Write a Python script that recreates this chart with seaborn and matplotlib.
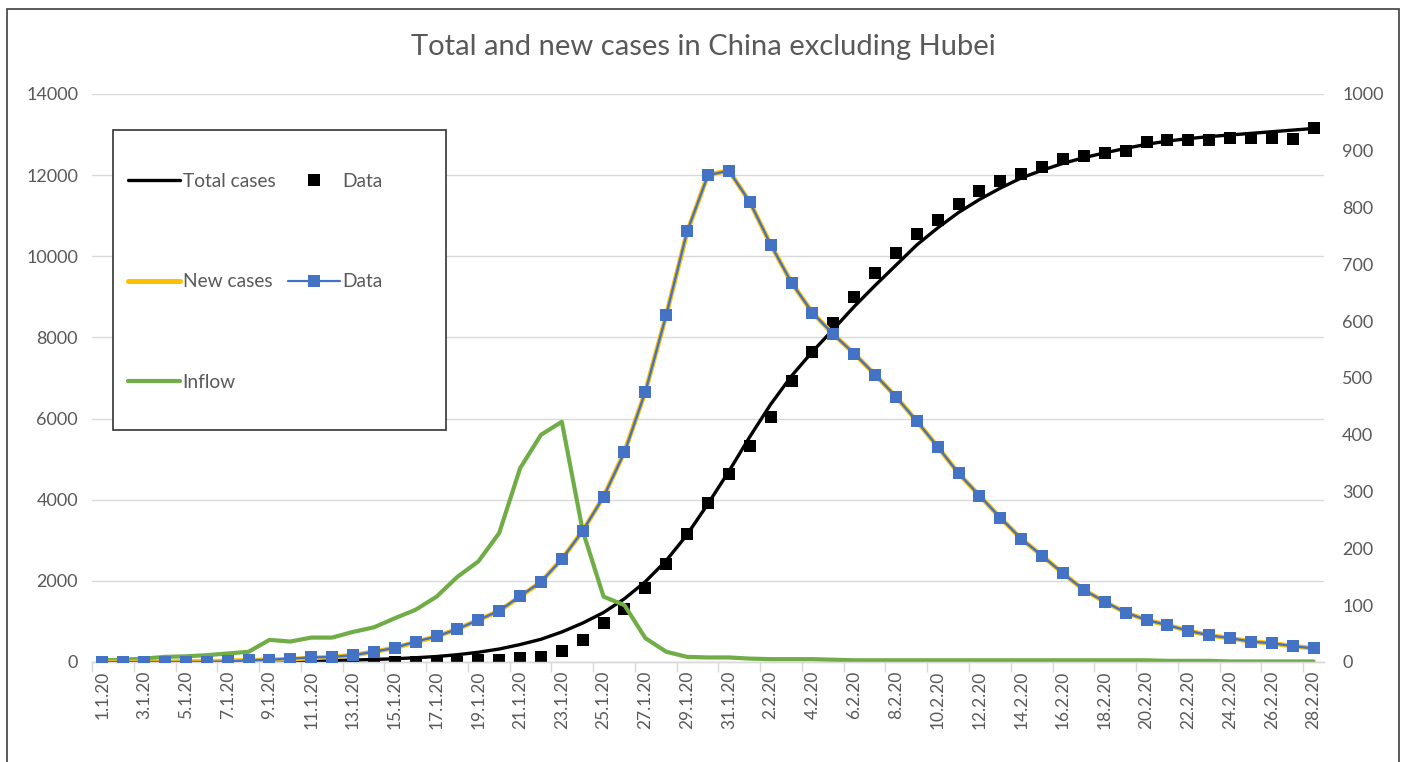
import numpy as np
import pandas as pd
import matplotlib
matplotlib.use("Agg")
import matplotlib.pyplot as plt
from matplotlib.lines import Line2D
from matplotlib.patches import Rectangle
import seaborn as sns

# ---------------- data ----------------
dates = (["%d.1.20" % d for d in range(1, 32)] +
         ["%d.2.20" % d for d in range(1, 29)])

total_model = [0, 2, 4, 6, 8, 10, 13, 16, 20, 25, 30, 38, 48, 62, 80, 105, 135, 180, 240, 320,
               430, 560, 740, 960, 1220, 1560, 1980, 2500, 3140, 3900, 4700, 5550, 6350, 7050,
               7650, 8200, 8760, 9280, 9780, 10280, 10700, 11080, 11400, 11680, 11930, 12120,
               12290, 12430, 12550, 12660, 12760, 12840, 12900, 12950, 12990, 13030, 13070,
               13110, 13150]

total_data = [0, 0, 0, 0, 0, 0, 0, 0, 0, 0, 0, 0, 0, 0, 0, 0, 0, 0, 49, 49,
              90, 131, 280, 550, 954, 1300, 1817, 2409, 3149, 3913, 4636, 5327, 6049, 6929,
              7652, 8352, 9008, 9600, 10078, 10555, 10905, 11282, 11612, 11866, 12019, 12197,
              12396, 12463, 12537, 12586, 12820, 12860, 12860, 12868, 12907, 12907, 12907,
              12887, 13150]

new_model = [0, 0, 0, 0, 1, 1, 2, 3, 4, 5, 7, 9, 12, 18, 25, 35, 45, 58, 74, 90,
             115, 141, 181, 231, 291, 370, 476, 611, 757, 858, 865, 810, 735, 668,
             615, 577, 543, 506, 467, 424, 379, 332, 293, 254, 217, 187, 156, 127,
             106, 87, 74, 65, 55, 47, 42, 36, 33, 28, 24]

new_data = [0, 0, 0, 0, 0, 0, 1, 3, 4, 6, 8, 9, 12, 18, 25, 36, 45, 58, 74, 90,
            116, 141, 181, 231, 291, 369, 476, 611, 758, 857, 865, 810, 735, 668,
            615, 577, 543, 506, 467, 424, 379, 332, 293, 254, 217, 187, 156, 127,
            106, 87, 74, 65, 55, 47, 42, 36, 33, 28, 24]

inflow = [3, 4, 6, 9, 10, 12, 15, 18, 39, 36, 43, 43, 53, 61, 77, 92, 115, 150, 177, 227,
          341, 400, 423, 231, 115, 100, 42, 18, 9, 8, 8, 6, 5, 5, 5, 4, 3, 3, 3, 3,
          3, 3, 3, 3, 3, 3, 3, 3, 3, 3, 3, 2, 2, 2, 1, 1, 1, 1, 1]

left_ticks = [0, 2000, 4000, 6000, 8000, 10000, 12000, 14000]
right_ticks = [0, 100, 200, 300, 400, 500, 600, 700, 800, 900, 1000]

# ---------------- style ----------------
sns.set_theme(style="white")
plt.rcParams['font.family'] = ['Lato', 'DejaVu Sans']
TXT = "#595959"
GRID = "#D9D9D9"
BLACK = "#000000"
YELLOW = "#FFC000"
BLUE = "#4472C4"
GREEN = "#70AD47"

df = pd.DataFrame({
    "i": np.arange(len(dates)),
    "total_model": total_model,
    "total_data": total_data,
    "new_model": new_model,
    "new_data": new_data,
    "inflow": inflow,
})

W, H = 1406, 762
fig = plt.figure(figsize=(W / 100, H / 100), dpi=100)
ax = fig.add_axes([92 / W, (H - 662) / H, (1324 - 92) / W, (662 - 94) / H])
ax2 = ax.twinx()

# left axis: total cases
sns.lineplot(data=df, x="i", y="total_model", ax=ax, color=BLACK, linewidth=2.4, zorder=3)
sns.scatterplot(data=df, x="i", y="total_data", ax=ax, color=BLACK, marker="s", s=82,
                edgecolor=BLACK, linewidth=0, zorder=4)

# right axis: new cases and inflow
sns.lineplot(data=df, x="i", y="inflow", ax=ax2, color=GREEN, linewidth=3.0, zorder=2)
sns.lineplot(data=df, x="i", y="new_model", ax=ax2, color=YELLOW, linewidth=3.4, zorder=3)
sns.lineplot(data=df, x="i", y="new_data", ax=ax2, color=BLUE, linewidth=1.7, marker="s",
             markersize=8.3, markeredgewidth=0, zorder=4)

ax.set_xlim(-0.5, len(dates) - 0.5)
ax.set_ylim(0, 14000)
ax2.set_ylim(0, 1000)
ax.set_yticks(left_ticks)
ax.set_yticklabels([str(v) for v in left_ticks])
ax2.set_yticks(right_ticks)
ax2.set_yticklabels([str(v) for v in right_ticks])

ax.set_xticks(np.arange(0, len(dates), 2))
ax.set_xticklabels([dates[k] for k in range(0, len(dates), 2)], rotation=90)
ax.set_xticks(np.arange(-0.5, len(dates), 2), minor=True)
ax.tick_params(axis="x", which="major", length=0, pad=6, labelsize=12.5, labelcolor=TXT)
ax.tick_params(axis="x", which="minor", length=7, width=1, color=GRID, bottom=True)
ax.tick_params(axis="y", length=0, pad=10, labelsize=13, labelcolor=TXT)
ax2.tick_params(axis="y", length=0, pad=13, labelsize=13, labelcolor=TXT)

ax.set_xlabel("")
ax.set_ylabel("")
ax2.set_ylabel("")
ax.grid(axis="y", color=GRID, linewidth=1)
ax.set_axisbelow(True)
for a in (ax, ax2):
    for s in ("top", "left", "right"):
        a.spines[s].set_visible(False)
    a.spines["bottom"].set_color(GRID)
    a.spines["bottom"].set_linewidth(1)
    a.patch.set_alpha(0)
for lg in (ax.get_legend(), ax2.get_legend()):
    if lg is not None:
        lg.remove()

fig.text(0.5, (H - 47) / H, "Total and new cases in China excluding Hubei",
         ha="center", va="center", fontsize=21, color=TXT)

# legend
handles = [
    Line2D([], [], color=BLACK, linewidth=2.4),
    Line2D([], [], color=YELLOW, linewidth=3.6),
    Line2D([], [], color=GREEN, linewidth=3.0),
    Line2D([], [], color="none", marker="s", markersize=9, markerfacecolor=BLACK,
           markeredgewidth=0),
    Line2D([], [], color=BLUE, linewidth=1.6, marker="s", markersize=8.5,
           markeredgewidth=0),
]
labels = ["Total cases", "New cases", "Inflow", "Data", "Data"]
fig.patches.append(Rectangle((113 / W, (H - 430) / H), (446 - 113) / W, (430 - 130) / H,
                             transform=fig.transFigure, fill=True, facecolor="white",
                             edgecolor="#333333", linewidth=1.2, zorder=5))
leg = fig.legend(handles, labels, ncol=2, loc="upper left",
                 bbox_to_anchor=(128 / W, (H - 173) / H), frameon=False,
                 fontsize=13.8, labelcolor=TXT, handlelength=2.7, handletextpad=0.15,
                 columnspacing=0.65, labelspacing=4.35, borderpad=0, borderaxespad=0)
leg.set_zorder(6)

# outer frame
fig.patches.append(Rectangle((7 / W, -0.01), (1399 - 7) / W, (H - 9) / H + 0.01,
                             transform=fig.transFigure, fill=False,
                             edgecolor="#404040", linewidth=1.2, zorder=10))

fig.savefig("out.png", dpi=100)
